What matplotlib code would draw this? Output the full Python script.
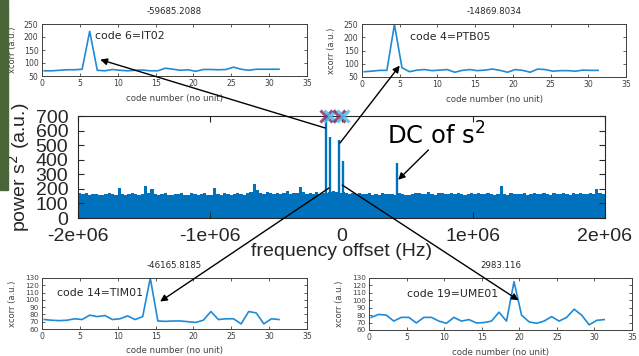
import numpy as np
import matplotlib
matplotlib.use("Agg")
import matplotlib.pyplot as plt
from matplotlib.patches import ConnectionPatch, Rectangle

plt.rcParams['axes.unicode_minus'] = False

# ---------------- data ----------------
# noise floor of the spectrum (bins of 25 kHz from -2 MHz to +2 MHz)
noise_start = -2.0e6
noise_step = 25000.0
noise_vals = [
    172, 166, 170, 158, 164, 168, 160, 156, 165, 170,
    162, 158, 205, 165, 160, 168, 172, 163, 158, 166,
    218, 170, 200, 162, 158, 165, 170, 160, 155, 163,
    168, 175, 160, 158, 172, 165, 158, 162, 170, 160,
    155, 205, 165, 160, 172, 168, 158, 166, 175, 163,
    160, 170, 178, 230, 190, 172, 165, 180, 170, 162,
    175, 168, 172, 185, 165, 170, 175, 212, 180, 168,
    172, 165, 178, 168, 170, 175, 180, 185, 178, 172,
    180, 175, 168, 172, 165, 170, 162, 168, 175, 160,
    165, 158, 170, 162, 168, 165, 160, 172, 165, 160,
    158, 165, 175, 170, 162, 168, 178, 165, 160, 170,
    172, 165, 168, 175, 162, 170, 165, 160, 168, 172,
    165, 170, 162, 168, 175, 165, 160, 168, 222, 165,
    160, 170, 165, 162, 168, 172, 160, 165, 170, 162,
    168, 172, 165, 160, 175, 168, 162, 170, 165, 160,
    170, 165, 175, 168, 162, 170, 165, 198, 172, 168,
]
peak_freqs = [-120000, -87000, -17000, 9000, 420000]
peak_vals = [685, 555, 535, 390, 375]
marker_freqs = [-120000, -87000, -17000, 9000]
marker_colors = ['#8e2f66', '#4DBEEE', '#8e2f66', '#4DBEEE']

codes = list(range(32))
xc_code6 = [70, 70, 72, 74, 74, 76, 222, 72, 70, 75, 72, 70, 72, 73, 70, 70,
            80, 76, 72, 74, 68, 75, 75, 74, 75, 84, 76, 72, 76, 76, 76, 76]
xc_code4 = [70, 72, 75, 75, 248, 85, 70, 76, 78, 74, 76, 78, 68, 75, 78, 74,
            76, 80, 75, 68, 78, 75, 68, 80, 78, 72, 74, 74, 72, 76, 75, 75]
xc_code14 = [73, 72, 71.5, 72, 74, 73, 79, 77, 78.5, 73, 74, 78, 73, 77, 130, 71,
             70.5, 71, 71, 70, 69, 72, 84, 73, 74, 74, 67, 84, 82, 67, 74, 73]
xc_code19 = [77, 81, 80, 72, 77, 77, 69.5, 77, 77, 72, 69, 77, 72, 74, 69.5, 70,
             72, 84, 72, 125, 80, 71, 69, 72, 78, 72, 77, 88, 80, 67, 73, 74]

titles = ['-59685.2088', '-14869.8034', '-46165.8185', '2983.116']
labels = ['code 6=IT02', 'code 4=PTB05', 'code 14=TIM01', 'code 19=UME01']
main_xticks = [-2e6, -1e6, 0, 1e6, 2e6]
main_xticklabels = ['-2e+06', '-1e+06', '0', '1e+06', '2e+06']

BLUE = '#0072BD'
W, H = 639, 356

fig = plt.figure(figsize=(W / 100, H / 100), dpi=100)


def fa(l, t, r, b):
    return [l / W, 1 - b / H, (r - l) / W, (b - t) / H]


# green photo strip on the left edge
fig.patches.append(Rectangle((0, 1 - 190 / H), 8 / W, 190 / H,
                             transform=fig.transFigure, color='#4a6638', zorder=0))

# ---------------- main spectrum ----------------
ax = fig.add_axes(fa(78, 116, 605, 218))
nfreq = noise_start + noise_step * (np.arange(len(noise_vals)) + 0.5)
ax.bar(nfreq, noise_vals, width=noise_step, color=BLUE, linewidth=0)
ax.vlines(peak_freqs, 0, peak_vals, color=BLUE, linewidth=1.7)
for f, c in zip(marker_freqs, marker_colors):
    ax.plot([f], [700], marker='x', color=c, markersize=8, mew=2.2,
            clip_on=False, zorder=5, alpha=0.85)
ax.set_xlim(-2e6, 2e6)
ax.set_ylim(0, 700)
ax.set_xticks(main_xticks)
ax.set_xticklabels(main_xticklabels)
ax.set_yticks(range(0, 701, 100))
ax.tick_params(direction='in', top=True, right=True, length=4, width=0.8,
               labelsize=14, pad=7, colors='#262626')
for lab in ax.get_xticklabels() + ax.get_yticklabels():
    lab.set_family('Liberation Sans')
for sp in ax.spines.values():
    sp.set_color('#262626')
    sp.set_linewidth(0.8)
ax.set_ylabel('power s$^2$ (a.u.)', fontsize=14, family='Liberation Sans',
              color='#262626')
ax.yaxis.set_label_coords(-0.087, 0.5)
ax.set_xlabel('frequency offset (Hz)', fontsize=14, family='Liberation Sans',
              color='#262626')
ax.xaxis.set_label_coords(0.5, -0.245)
ax.text(0.345e6, 470, 'DC of s$^2$', fontsize=17.5, color='black', va='bottom')
ax.annotate('', xy=(0.43e6, 262), xytext=(0.66e6, 467),
            arrowprops=dict(arrowstyle='-|>', color='black', lw=1, mutation_scale=10,
                            shrinkA=0, shrinkB=0))

# ---------------- sub plots ----------------
sub_specs = [
    (fa(42, 24, 307, 76), xc_code6, (50, 250), range(50, 251, 50), (7.0, 203), -0.094, 5.6),
    (fa(362, 24, 626, 77), xc_code4, (50, 250), range(50, 251, 50), (6.3, 202), -0.098, 5.6),
    (fa(42, 278, 307, 329), xc_code14, (60, 130), range(60, 131, 10), (2.0, 109), -0.094, 5.2),
    (fa(369, 278, 632, 330), xc_code19, (60, 130), range(60, 131, 10), (5.0, 109), -0.095, 5.2),
]
subs = []
for i, (rect, vals, ylim, yt, tpos, ylx, ysz) in enumerate(sub_specs):
    s = fig.add_axes(rect)
    s.plot(np.array(codes) + 0.3, vals, color='#1f8ad6', lw=1.2)
    s.set_xlim(0, 35)
    s.set_ylim(*ylim)
    s.set_xticks(range(0, 36, 5))
    s.set_yticks(list(yt))
    s.tick_params(direction='in', top=True, right=True, length=2.5, width=0.6,
                  labelsize=5.6, pad=2.5, colors='#404040')
    s.tick_params(axis='y', labelsize=ysz)
    for sp in s.spines.values():
        sp.set_color('#404040')
        sp.set_linewidth(0.7)
    s.set_title(titles[i], fontsize=6.2, color='#262626', pad=7)
    s.set_xlabel('code number (no unit)', fontsize=6.2, color='#404040')
    s.xaxis.set_label_coords(0.5, -0.34)
    s.set_ylabel('xcorr (a.u.)', fontsize=6, color='#404040')
    s.yaxis.set_label_coords(ylx, 0.5)
    s.text(tpos[0], tpos[1], labels[i], fontsize=7.8, color='#262626',
           ha='left', va='center')
    subs.append(s)

# ---------------- arrows from peaks to sub plots ----------------
arrows = [
    ((-125000, 618), subs[0], (7.7, 113)),
    ((-11000, 515), subs[1], (5.0, 93)),
    ((-95000, 206), subs[2], (15.6, 97.7)),
    ((6000, 226), subs[3], (19.9, 100)),
]
for tail, s, head in arrows:
    cp = ConnectionPatch(xyA=tail, coordsA=ax.transData, xyB=head, coordsB=s.transData,
                         arrowstyle='-|>', color='black', lw=1, mutation_scale=10,
                         shrinkA=0, shrinkB=0)
    cp.set_zorder(10)
    fig.add_artist(cp)

fig.savefig('out.png', dpi=100)
